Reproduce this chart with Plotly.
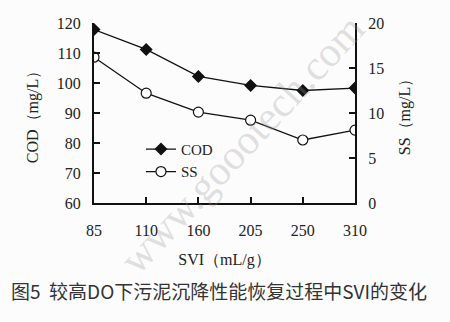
import plotly.graph_objects as go

svi = ["85", "110", "160", "205", "250", "310"]
cod = [117.8, 111.2, 102.2, 99.2, 97.5, 98.3]
ss = [16.2, 12.2, 10.1, 9.2, 7.0, 8.1]

serif = "'Liberation Serif', 'Times New Roman', serif"
ink = "#222222"

fig = go.Figure()
fig.add_trace(go.Scatter(
    x=svi, y=cod, name="COD", mode="lines+markers",
    line=dict(color="#111111", width=1.3),
    marker=dict(symbol="diamond", size=10, color="#111111"),
))
fig.add_trace(go.Scatter(
    x=svi, y=ss, name="SS", mode="lines+markers", yaxis="y2",
    line=dict(color="#111111", width=1.3),
    marker=dict(symbol="circle", size=10, color="white",
                line=dict(color="#111111", width=1.2)),
))

axis_common = dict(showgrid=False, zeroline=False, showline=True, linecolor="#111111",
                   linewidth=2, ticks="inside", ticklen=6, tickcolor="#111111", tickwidth=1.5,
                   tickfont=dict(size=16, family=serif, color=ink))

fig.update_layout(
    width=450, height=322,
    margin=dict(l=94, r=95, t=23, b=119),
    paper_bgcolor="#fcfcfc", plot_bgcolor="rgba(0,0,0,0)",
    font=dict(family=serif, size=14, color=ink),
    showlegend=True,
    legend=dict(x=0.18, y=0.39, xanchor="left", yanchor="top",
                bgcolor="rgba(0,0,0,0)", font=dict(size=15, family=serif),
                tracegroupgap=0),
    xaxis=dict(type="category", range=[0, 5], ticklabelstandoff=12,
               title=dict(text="SVI（mL/g）", font=dict(size=16, family=serif, color=ink), standoff=16),
               **axis_common),
    yaxis=dict(range=[60, 120], dtick=10, ticklabelstandoff=8,
               title=dict(text="COD（mg/L）", font=dict(size=16, family=serif, color=ink), standoff=14),
               **axis_common),
    yaxis2=dict(range=[0, 20], dtick=5, overlaying="y", side="right", ticklabelstandoff=8,
                title=dict(text="SS（mg/L）", font=dict(size=16, family=serif, color=ink), standoff=16),
                **axis_common),
)

fig.add_annotation(
    text="图5  较高DO下污泥沉降性能恢复过程中SVI的变化",
    xref="paper", yref="paper", x=-0.325, y=-0.485, xanchor="left", yanchor="middle",
    showarrow=False, font=dict(family="Noto Sans CJK SC, sans-serif", size=19, color="#333333"),
)
fig.add_annotation(
    text="www.goootech.com",
    xref="paper", yref="paper", x=0.567, y=0.33, xanchor="center", yanchor="middle",
    showarrow=False, textangle=-47,
    font=dict(family="Liberation Serif, serif", size=42, color="rgba(150,150,150,0.3)"),
)

fig.write_html("out.html")
